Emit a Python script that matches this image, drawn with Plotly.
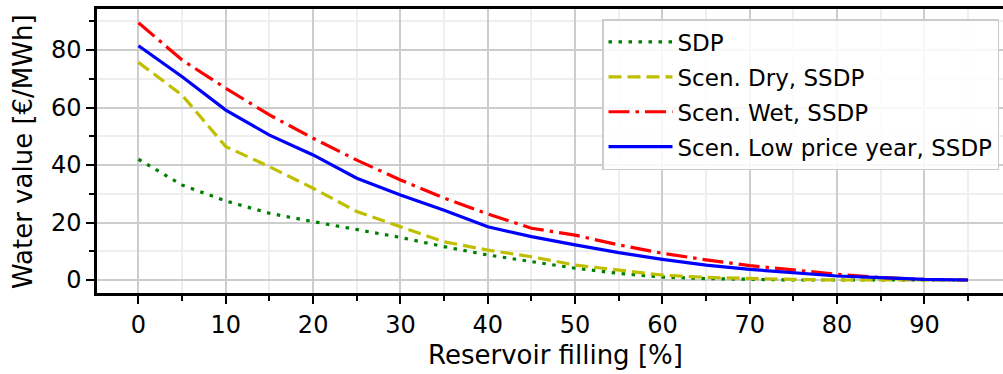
import plotly.graph_objects as go

# Reservoir filling levels [%]
filling = [0, 5, 10, 15, 20, 25, 30, 35, 40, 45, 50, 55, 60, 65, 70, 75, 80, 85, 90, 95]

# Water values [EUR/MWh] per method / scenario
sdp = [42.0, 33.0, 27.5, 23.2, 20.3, 17.6, 14.8, 11.6, 8.7, 6.4, 4.1, 2.3, 1.0, 0.5, 0.2, 0.0, 0.0, 0.0, 0.0, 0.0]
dry = [75.7, 64.3, 46.4, 39.4, 31.9, 23.8, 18.5, 13.3, 10.4, 8.1, 5.2, 3.5, 1.7, 0.9, 0.5, 0.2, 0.0, 0.0, 0.0, 0.0]
wet = [89.5, 76.5, 66.7, 57.4, 49.3, 41.7, 34.8, 28.5, 23.0, 18.0, 15.6, 12.2, 9.3, 7.0, 5.0, 3.5, 2.0, 0.9, 0.2, 0.0]
low_price = [81.5, 70.7, 59.1, 50.4, 43.5, 35.4, 29.6, 24.3, 18.5, 15.1, 12.2, 9.5, 7.2, 5.2, 3.7, 2.5, 1.4, 0.8, 0.2, 0.0]

series_names = ["SDP", "Scen. Dry, SSDP", "Scen. Wet, SSDP", "Scen. Low price year, SSDP"]
x_ticks = [0, 10, 20, 30, 40, 50, 60, 70, 80, 90]
y_ticks = [0, 20, 40, 60, 80]

FONT = "DejaVu Sans"
TICK_FS = 24
TITLE_FS = 26
LEGEND_FS = 23
LW = 3.2

styles = [
    ("#008000", "3.5px,6.5px"),
    ("#bfbf00", "13px,6px"),
    ("#ff0000", "21px,6px,3.5px,6px"),
    ("#0000ff", "solid"),
]

fig = go.Figure()
for i, (values, name, (color, dash)) in enumerate(zip([sdp, dry, wet, low_price], series_names, styles)):
    fig.add_trace(go.Scatter(x=filling, y=values, mode="lines", name=name,
                             legendgroup=f"g{i}",
                             line=dict(color=color, width=LW, dash=dash)))

axis_common = dict(
    showline=True, linecolor="black", linewidth=2.5,
    ticks="outside", ticklen=8, tickwidth=1.5, tickcolor="black",
    showgrid=True, gridcolor="#cdcdcd", gridwidth=1.5,
    zeroline=False,
    tickfont=dict(family=FONT, size=TICK_FS, color="black"),
)

fig.update_xaxes(
    range=[-4.75, 99.0], tickmode="array", tickvals=x_ticks,
    mirror=True,
    minor=dict(dtick=5, tick0=0, ticks="outside", ticklen=5, tickwidth=1.5,
               tickcolor="black", showgrid=True, gridcolor="#eeeeee", gridwidth=1.5),
    **axis_common,
)
fig.update_yaxes(
    range=[-4.52, 94.26], tickmode="array", tickvals=y_ticks,
    minor=dict(dtick=10, tick0=0, ticks="outside", ticklen=5, tickwidth=1.5,
               tickcolor="black", showgrid=True, gridcolor="#eeeeee", gridwidth=1.5),
    **axis_common,
)

fig.add_annotation(text="Reservoir filling [%]", xref="paper", yref="paper",
                   x=(555 - 97) / 906, y=-(355 - 293) / 284, showarrow=False,
                   xanchor="center", yanchor="middle",
                   font=dict(family=FONT, size=TITLE_FS, color="black"))
fig.add_annotation(text="Water value [€/MWh]", xref="paper", yref="paper",
                   x=-(97 - 23) / 906, y=(293 - 152) / 284, showarrow=False,
                   textangle=-90, xanchor="center", yanchor="middle",
                   font=dict(family=FONT, size=TITLE_FS, color="black"))

fig.update_layout(
    width=1003, height=374,
    margin=dict(l=97, r=0, t=9, b=81),
    plot_bgcolor="white", paper_bgcolor="white",
    font=dict(family=FONT, size=TICK_FS, color="black"),
    legend=dict(
        x=(602 - 97) / 906, y=(293 - 19) / 284, xanchor="left", yanchor="top",
        bgcolor="rgba(255,255,255,0.85)", bordercolor="#cccccc", borderwidth=1.5,
        font=dict(family=FONT, size=LEGEND_FS, color="black"),
        itemwidth=64, tracegroupgap=2,
    ),
    showlegend=True,
)

fig.write_html("out.html")
